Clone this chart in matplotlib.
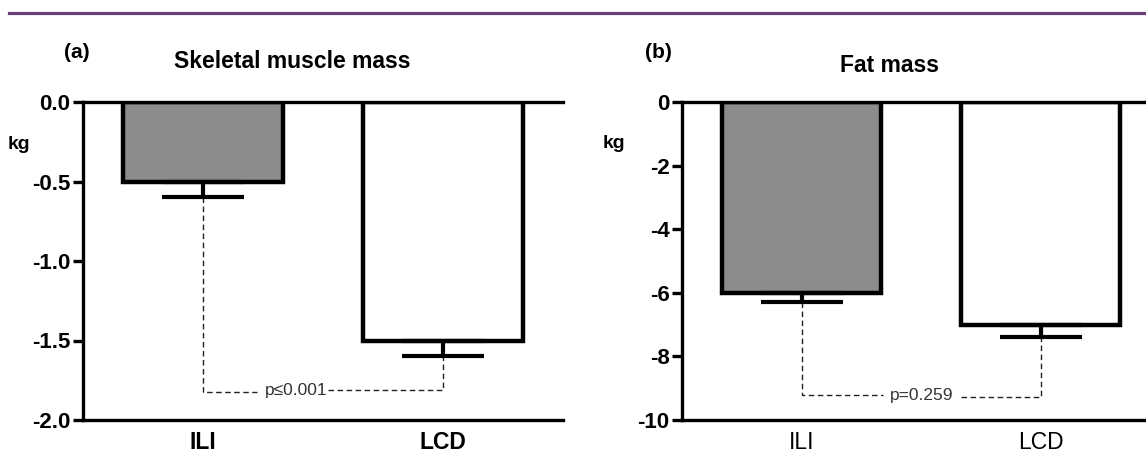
import matplotlib
matplotlib.use("Agg")
import matplotlib.pyplot as plt
from matplotlib.lines import Line2D

plt.rcParams['font.family'] = ['Liberation Sans', 'DejaVu Sans']
plt.rcParams['axes.unicode_minus'] = False

# data
groups = ["ILI", "LCD"]
smm_mean = [-0.5, -1.5]
smm_sem = [0.1, 0.1]
fat_mean = [-6.0, -7.0]
fat_sem = [0.3, 0.4]
smm_ticks = [0.0, -0.5, -1.0, -1.5, -2.0]
fat_ticks = [0, -2, -4, -6, -8, -10]
smm_p = "p\u22640.001"
fat_p = "p=0.259"
smm_bracket = [-1.824, -1.81]   # y of dashed line under ILI / LCD
fat_bracket = [-9.21, -9.28]

bar_colors = ["#8c8c8c", "white"]
W, H = 1146, 474

fig = plt.figure(figsize=(W / 100, H / 100), dpi=100)

# purple rule at the top
fig.add_artist(Line2D([9 / W, 1.0], [1 - 13 / H, 1 - 13 / H], transform=fig.transFigure,
                      color="#6a3d7a", lw=2.3))


def panel(rect, means, sems, ticks, tickfmt, ylim, p_txt, bracket, p_x, gap, bold_cats):
    ax = fig.add_axes(rect)
    x = list(range(len(groups)))
    ax.bar(x, means, width=0.665, color=bar_colors, edgecolor="black", linewidth=3.2, zorder=2)
    ax.errorbar(x, means, yerr=[sems, [0] * len(sems)], fmt="none", ecolor="black",
                elinewidth=3, capsize=29.5, capthick=3, zorder=3)
    # dashed comparison bracket
    lo = [m - s for m, s in zip(means, sems)]
    dash = dict(color="#222222", lw=1.0, linestyle=(0, (4, 2.5)), zorder=1)
    ax.plot([0, 0, gap[0]], [lo[0], bracket[0], bracket[0]], **dash)
    ax.plot([gap[1], 1, 1], [bracket[1], bracket[1], lo[1]], **dash)
    ax.text(p_x, (bracket[0] + bracket[1]) / 2, p_txt, ha="center", va="center",
            fontsize=12.5, color="#333333")
    ax.set_xlim(-0.5, 1.5)
    ax.set_ylim(*ylim)
    ax.set_yticks(ticks)
    ax.set_yticklabels([tickfmt % t for t in ticks], fontsize=16, fontweight="bold")
    ax.set_xticks(x)
    ax.set_xticklabels(groups, fontsize=16.5, fontweight="bold" if bold_cats else "normal")
    ax.tick_params(axis="y", length=7, width=2.4, pad=2)
    ax.tick_params(axis="x", length=0, pad=8)
    for s in ["left", "top", "bottom"]:
        ax.spines[s].set_linewidth(2.4)
    ax.spines["right"].set_visible(False)
    return ax


panel([83 / W, 54 / H, 480 / W, 318 / H], smm_mean, smm_sem, smm_ticks, "%.1f", (-2.0, 0.0),
      smm_p, smm_bracket, 0.39, (0.225, 0.52), True)
panel([682 / W, 54 / H, 478 / W, 318 / H], fat_mean, fat_sem, fat_ticks, "%d", (-10, 0),
      fat_p, fat_bracket, 0.504, (0.34, 0.667), False)

fig.text(292 / W, 1 - 62 / H, "Skeletal muscle mass", ha="center", va="center",
         fontsize=16.5, fontweight="bold")
fig.text(889 / W, 1 - 65 / H, "Fat mass", ha="center", va="center",
         fontsize=16.5, fontweight="bold")
fig.text(77 / W, 1 - 53 / H, "(a)", ha="center", va="center", fontsize=15, fontweight="bold")
fig.text(658 / W, 1 - 53 / H, "(b)", ha="center", va="center", fontsize=15, fontweight="bold")
fig.text(19 / W, 1 - 144 / H, "kg", ha="center", va="center", fontsize=14, fontweight="bold")
fig.text(614 / W, 1 - 143 / H, "kg", ha="center", va="center", fontsize=14, fontweight="bold")

fig.savefig("out.png", dpi=100)
